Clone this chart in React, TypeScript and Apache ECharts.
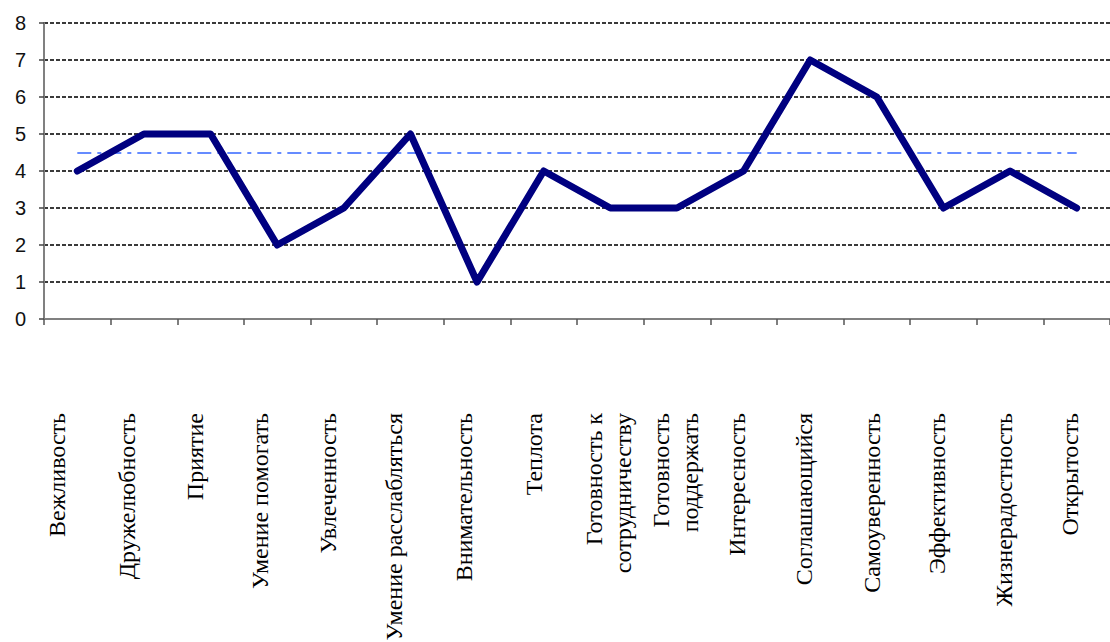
import React, { useEffect, useRef } from "react";
import * as echarts from "echarts";

const categories: string[] = [
  "Вежливость",
  "Дружелюбность",
  "Приятие",
  "Умение помогать",
  "Увлеченность",
  "Умение расслабляться",
  "Внимательность",
  "Теплота",
  "Готовность к\nсотрудничеству",
  "Готовность\nподдержать",
  "Интересность",
  "Соглашающийся",
  "Самоуверенность",
  "Эффективность",
  "Жизнерадостность",
  "Открытость",
];

const values: number[] = [4, 5, 5, 2, 3, 5, 1, 4, 3, 3, 4, 7, 6, 3, 4, 3];

const referenceLevel = 4.5;
const yTicks: number[] = [0, 1, 2, 3, 4, 5, 6, 7, 8];

// horizontal nudge (px, negative = left) of each rotated category label
const labelShift: number[] = [-20, -17, -16, -17, -16, -16, -13, -10, -2, -1, -7, -6, -5, -6, -6, -7];
const labelGap = 94;

export default function App() {
  const ref = useRef<HTMLDivElement>(null);

  useEffect(() => {
    if (!ref.current) return;
    const chart = echarts.init(ref.current, null, { renderer: "svg" });
    chart.setOption({
      animation: false,
      backgroundColor: "#ffffff",
      grid: { left: 44, right: -9, top: 23, bottom: 323, containLabel: false },
      xAxis: {
        type: "category",
        data: categories,
        boundaryGap: true,
        axisLine: { show: true, lineStyle: { color: "#808080", width: 2 } },
        axisTick: { show: true, length: 6, interval: 0, lineStyle: { color: "#555", width: 1.5 } },
        axisLabel: { show: false },
        splitLine: { show: false },
      },
      yAxis: {
        type: "value",
        min: yTicks[0],
        max: yTicks[yTicks.length - 1],
        interval: 1,
        axisLine: { show: true, lineStyle: { color: "#808080", width: 2 } },
        axisTick: { show: true, length: 5, lineStyle: { color: "#444", width: 1.5 } },
        axisLabel: {
          color: "#111",
          fontFamily: "Liberation Sans",
          fontSize: 20,
          margin: 18,
        },
        splitLine: {
          show: true,
          lineStyle: { color: "#3a3a3a", type: [4, 2], width: 1.9 },
        },
      },
      series: [
        {
          type: "line",
          data: values,
          showSymbol: false,
          symbol: "none",
          lineStyle: { color: "#000080", width: 7, join: "round", cap: "round" },
          itemStyle: { color: "#000080" },
          z: 5,
          markLine: {
            silent: true,
            symbol: "none",
            label: { show: false },
            lineStyle: { color: "#3366ff", width: 1.5, type: [14, 6, 4, 6] },
            data: [
              [
                { coord: [categories[0], referenceLevel] },
                { coord: [categories[categories.length - 1], referenceLevel] },
              ],
            ],
          },
        },
      ],
    });

    const axisY = chart.convertToPixel({ yAxisIndex: 0 }, yTicks[0]) as number;
    const texts = categories.map((c, i) => {
      const px = chart.convertToPixel({ xAxisIndex: 0 }, i) as number;
      return {
        type: "text",
        x: px + labelShift[i],
        y: axisY + labelGap,
        rotation: Math.PI / 2,
        silent: true,
        style: {
          text: c,
          fill: "#000",
          fontFamily: "Liberation Serif",
          fontSize: 24,
          font: '24px "Liberation Serif", "Times New Roman", serif',
          lineHeight: 29,
          align: "right",
          verticalAlign: "middle",
          textAlign: "right",
          textVerticalAlign: "middle",
        },
      };
    });
    chart.setOption({ graphic: { elements: texts } });

    return () => chart.dispose();
  }, []);

  return (
    <div
      ref={ref}
      style={{ position: "fixed", left: 0, top: 0, width: 1110, height: 642, background: "#fff" }}
    />
  );
}
